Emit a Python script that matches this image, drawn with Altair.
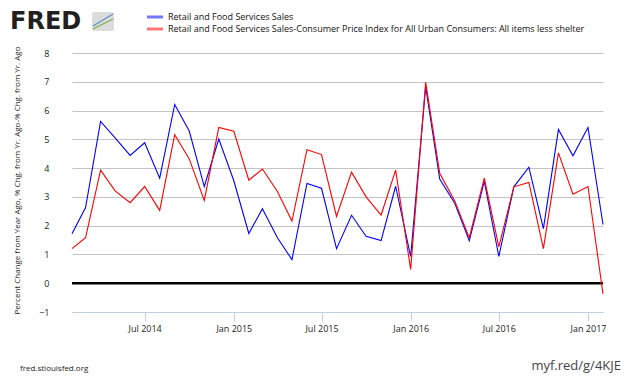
import altair as alt
import pandas as pd

months = [d.strftime("%Y-%m-%d") for d in pd.date_range("2014-02-01", "2017-02-01", freq="MS")]

retail_sales = [1.72, 2.63, 5.62, 5.05, 4.44, 4.88, 3.65, 6.21, 5.29, 3.36, 5.01, 3.56,
                1.73, 2.59, 1.58, 0.82, 3.47, 3.30, 1.20, 2.36, 1.63, 1.48, 3.37, 0.93,
                6.83, 3.62, 2.78, 1.48, 3.54, 0.93, 3.35, 4.03, 1.90, 5.34, 4.43, 5.41, 2.04]

retail_less_cpi = [1.20, 1.58, 3.93, 3.21, 2.80, 3.36, 2.53, 5.16, 4.32, 2.88, 5.41, 5.28,
                   3.58, 3.97, 3.19, 2.16, 4.64, 4.47, 2.32, 3.86, 3.00, 2.37, 3.93, 0.48,
                   6.98, 3.82, 2.86, 1.58, 3.65, 1.26, 3.35, 3.50, 1.20, 4.53, 3.09, 3.36, -0.37]

y_ticks = [-1, 0, 1, 2, 3, 4, 5, 6, 7, 8]
x_ticks = [(2014, 7), (2015, 1), (2015, 7), (2016, 1), (2016, 7), (2017, 1)]

series_names = ["Retail and Food Services Sales",
                "Retail and Food Services Sales-Consumer Price Index for All Urban Consumers: All items less shelter"]

FONT = "Open Sans"

df = pd.DataFrame({
    "date": months * 2,
    "value": retail_sales + retail_less_cpi,
    "series": [series_names[0]] * len(months) + [series_names[1]] * len(months),
})

W, H = 531, 259

x_enc = alt.X("date:T",
              scale=alt.Scale(type="utc",
                              domain=[alt.DateTime(year=2014, month=2, date=1, utc=True),
                                      alt.DateTime(year=2017, month=2, date=1, utc=True)]),
              axis=alt.Axis(values=[alt.DateTime(year=y, month=m, date=1, utc=True) for y, m in x_ticks],
                            format="%b %Y", title=None, grid=False,
                            domainColor="#c0d0e0", tickColor="#c0d0e0", tickSize=9,
                            labelPadding=3, labelFontSize=9, labelColor="#222",
                            labelFont=FONT, labelOverlap=False, labelFlush=False))
y_axis = alt.Axis(values=y_ticks, title=None, domain=False, ticks=False, grid=True,
                  gridColor="#c4c4c4", gridWidth=1, labelPadding=23,
                  labelFontSize=9, labelColor="#222", labelFont=FONT,
                  labelOverlap=False, labelFlush=False)
y_scale = alt.Scale(domain=[-1, 8], nice=False, zero=False)
y_enc = alt.Y("value:Q", scale=y_scale, axis=y_axis)

zero = alt.Chart(pd.DataFrame({"value": [0]})).mark_rule(color="black", strokeWidth=2.5).encode(y=y_enc)

lines = alt.Chart(df).mark_line(strokeWidth=1.1).encode(
    x=x_enc, y=y_enc,
    color=alt.Color("series:N", scale=alt.Scale(domain=series_names, range=["#0000ff", "#ff0000"]),
                    legend=None),
    order=alt.Order("date:T"),
)

deco = []
# legend
deco.append(alt.Chart(pd.DataFrame({"a": [0]})).mark_rule(color="#7777ff", strokeWidth=3).encode(
    x=alt.value(75), x2=alt.value(91), y=alt.value(-36)))
deco.append(alt.Chart(pd.DataFrame({"a": [0]})).mark_rule(color="#ff7777", strokeWidth=3).encode(
    x=alt.value(75), x2=alt.value(91), y=alt.value(-24)))
deco.append(alt.Chart(pd.DataFrame({"t": [series_names[0]]})).mark_text(
    align="left", baseline="middle", fontSize=9, font=FONT, color="#111").encode(
    text="t:N", x=alt.value(96), y=alt.value(-36)))
deco.append(alt.Chart(pd.DataFrame({"t": [series_names[1]]})).mark_text(
    align="left", baseline="middle", fontSize=9, font=FONT, color="#111").encode(
    text="t:N", x=alt.value(96), y=alt.value(-24)))
# FRED logo
deco.append(alt.Chart(pd.DataFrame({"t": ["FRED"]})).mark_text(
    align="left", baseline="alphabetic", fontSize=24, fontWeight="bold", font="DejaVu Sans",
    color="#231f20").encode(text="t:N", x=alt.value(-62), y=alt.value(-24)))
deco.append(alt.Chart(pd.DataFrame({"a": [0]})).mark_rect(color="#dcdcdc", cornerRadius=2).encode(
    x=alt.value(20), x2=alt.value(42), y=alt.value(-41), y2=alt.value(-22)))
deco.append(alt.Chart(pd.DataFrame({"a": [0]})).mark_rule(color="#5b8fc9", strokeWidth=1.2).encode(
    x=alt.value(21), x2=alt.value(41), y=alt.value(-27), y2=alt.value(-39)))
deco.append(alt.Chart(pd.DataFrame({"a": [0]})).mark_rule(color="#7ab04a", strokeWidth=1.2).encode(
    x=alt.value(21), x2=alt.value(41), y=alt.value(-24), y2=alt.value(-34)))
# y title
deco.append(alt.Chart(pd.DataFrame({"t": ["Percent Change from Year Ago, % Chg. from Yr. Ago-% Chg. from Yr. Ago"]})).mark_text(
    align="center", baseline="middle", fontSize=8, font=FONT, color="#222", angle=270).encode(
    text="t:N", x=alt.value(-54), y=alt.value(H / 2 - 2)))
# footer
deco.append(alt.Chart(pd.DataFrame({"t": ["fred.stlouisfed.org"]})).mark_text(
    align="left", baseline="middle", fontSize=8, font=FONT, color="#222").encode(
    text="t:N", x=alt.value(-52), y=alt.value(316)))
deco.append(alt.Chart(pd.DataFrame({"t": ["myf.red/g/4KJE"]})).mark_text(
    align="right", baseline="middle", fontSize=13, font=FONT, color="#444").encode(
    text="t:N", x=alt.value(549), y=alt.value(313)))

chart = alt.layer(zero, lines, *deco).properties(
    width=W, height=H,
    autosize=alt.AutoSizeParams(type="none"),
    padding={"left": 64, "top": 45, "right": 19, "bottom": 66},
    background="white",
).configure_view(stroke=None)

chart.save("out.html", embed_options={"renderer": "svg", "actions": False})
